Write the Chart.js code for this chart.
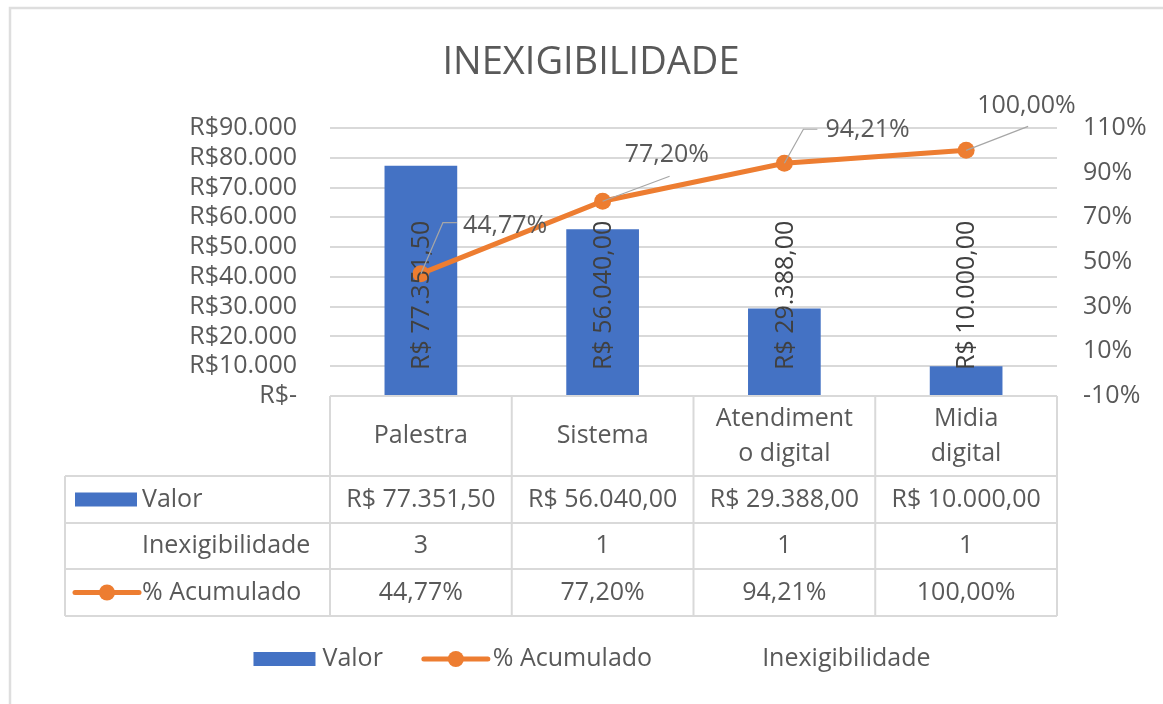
<!DOCTYPE html>
<html>
<head>
<meta charset="utf-8">
<title>INEXIGIBILIDADE</title>
<script src="https://cdn.jsdelivr.net/npm/chart.js@4.4.1/dist/chart.umd.min.js"></script>
<style>
  html, body { margin: 0; padding: 0; background: #fff; }
  #wrap { width: 1163px; height: 704px; }
</style>
</head>
<body>
<div id="wrap"><canvas id="chart" width="1163" height="704"></canvas></div>
<script>
// data
const categorias      = [['Palestra'], ['Sistema'], ['Atendiment', 'o digital'], ['Midia', 'digital']];
const valores         = [77351.5, 56040, 29388, 10000];
const inexigibilidade = [3, 1, 1, 1];
const acumulado       = [44.77, 77.20, 94.21, 100.00];

const BAR_COLOR  = '#4472C4';
const LINE_COLOR = '#ED7D31';
const TEXT_COLOR = '#595959';
const GRID_COLOR = '#d9d9d9';
const FONT       = '"Open Sans", sans-serif';

// label placement for the % line (offset from point, leader path)
const LINE_LABELS = [
  { dx: 42, dy: -48, leader: [[0, 0], [22, -51], [36, -51]] },
  { dx: 22, dy: -46, leader: [[0, 0], [67, -25]] },
  { dx: 41, dy: -33, leader: [[0, 0], [19, -34], [33, -34]] },
  { dx: 11, dy: -44, leader: [[0, 0], [62, -24]] },
];

function milhar(s) {
  return s.replace(/\B(?=(\d{3})+(?!\d))/g, '.');
}
function brl(v) {
  const [i, d] = v.toFixed(2).split('.');
  return 'R$ ' + milhar(i) + ',' + d;
}
function pct(v) {
  return v.toFixed(2).replace('.', ',') + '%';
}

const extras = {
  id: 'extras',

  beforeDraw(chart) {
    const { ctx, width, height } = chart;
    ctx.save();
    ctx.fillStyle = '#fff';
    ctx.fillRect(0, 0, width, height);
    ctx.strokeStyle = '#dedede';
    ctx.lineWidth = 2.5;
    ctx.beginPath();
    ctx.moveTo(10, height);
    ctx.lineTo(10, 8);
    ctx.lineTo(width, 8);
    ctx.stroke();
    ctx.restore();
  },

  afterDatasetsDraw(chart) {
    const { ctx } = chart;
    const y = chart.scales.y;
    const base = y.getPixelForValue(0);

    // bar labels, rotated, from the base up
    const barMeta = chart.getDatasetMeta(1);
    ctx.save();
    ctx.font = '25px ' + FONT;
    ctx.fillStyle = '#404040';
    ctx.textAlign = 'left';
    ctx.textBaseline = 'middle';
    barMeta.data.forEach((bar, i) => {
      ctx.save();
      ctx.translate(bar.x, base - 26);
      ctx.rotate(-Math.PI / 2);
      ctx.fillText(brl(valores[i]), 0, 1);
      ctx.restore();
    });
    ctx.restore();

    // line labels with leader lines
    const lineMeta = chart.getDatasetMeta(0);
    ctx.save();
    ctx.font = '25px ' + FONT;
    ctx.fillStyle = TEXT_COLOR;
    ctx.textAlign = 'left';
    ctx.textBaseline = 'middle';
    lineMeta.data.forEach((pt, i) => {
      const lab = LINE_LABELS[i];
      ctx.strokeStyle = '#a6a6a6';
      ctx.lineWidth = 1.2;
      ctx.beginPath();
      lab.leader.forEach(([lx, ly], k) => {
        if (k === 0) ctx.moveTo(pt.x + lx, pt.y + ly);
        else ctx.lineTo(pt.x + lx, pt.y + ly);
      });
      ctx.stroke();
      ctx.fillText(pct(acumulado[i]), pt.x + lab.dx, pt.y + lab.dy);
    });
    ctx.restore();
  },

  afterDraw(chart) {
    const { ctx, chartArea } = chart;
    const xs = chart.scales.x;
    const centers = categorias.map((_, i) => xs.getPixelForValue(i));
    const half = (centers[1] - centers[0]) / 2;
    const edges = [centers[0] - half].concat(centers.map(c => c + half));
    const left = 65;
    const top = chartArea.bottom;
    const rowsY = [top, top + 80, top + 127, top + 173, top + 220];

    ctx.save();

    // title
    ctx.fillStyle = TEXT_COLOR;
    ctx.font = '38px ' + FONT;
    ctx.textAlign = 'center';
    ctx.textBaseline = 'middle';
    ctx.fillText('INEXIGIBILIDADE', 591, 63);

    // data table grid
    ctx.strokeStyle = GRID_COLOR;
    ctx.lineWidth = 2;
    ctx.beginPath();
    ctx.moveTo(edges[0], rowsY[0]);
    ctx.lineTo(edges[edges.length - 1], rowsY[0]);
    for (let r = 1; r < rowsY.length; r++) {
      ctx.moveTo(left, rowsY[r]);
      ctx.lineTo(edges[edges.length - 1], rowsY[r]);
    }
    edges.forEach(x => {
      ctx.moveTo(x, rowsY[0]);
      ctx.lineTo(x, rowsY[4]);
    });
    ctx.moveTo(left, rowsY[1]);
    ctx.lineTo(left, rowsY[4]);
    ctx.stroke();

    // header: category names
    ctx.font = '25px ' + FONT;
    ctx.fillStyle = TEXT_COLOR;
    ctx.textAlign = 'center';
    const hMid = (rowsY[0] + rowsY[1]) / 2;
    categorias.forEach((lines, i) => {
      const lh = 35;
      const y0 = hMid - (lines.length - 1) * lh / 2;
      lines.forEach((t, k) => ctx.fillText(t, centers[i], y0 + k * lh));
    });

    // value rows
    const rows = [
      valores.map(brl),
      inexigibilidade.map(String),
      acumulado.map(pct),
    ];
    rows.forEach((vals, r) => {
      const ym = (rowsY[r + 1] + rowsY[r + 2]) / 2;
      vals.forEach((t, i) => ctx.fillText(t, centers[i], ym));
    });

    // row headers with legend keys
    const names = ['Valor', 'Inexigibilidade', '% Acumulado'];
    const keys = ['bar', null, 'line'];
    ctx.textAlign = 'left';
    names.forEach((n, r) => {
      const ym = (rowsY[r + 1] + rowsY[r + 2]) / 2;
      drawKey(ctx, keys[r], 75, ym);
      ctx.fillStyle = TEXT_COLOR;
      ctx.fillText(n, 142, ym);
    });

    // bottom legend
    const items = [['bar', 'Valor'], ['line', '% Acumulado'], [null, 'Inexigibilidade']];
    const keyW = 62, keyGap = 7, itemGap = 41;
    const widths = items.map(([, t]) => keyW + keyGap + ctx.measureText(t).width);
    const total = widths.reduce((a, b) => a + b, 0) + itemGap * (items.length - 1);
    let x = 592 - total / 2;
    const ly = 659;
    items.forEach(([k, t], i) => {
      drawKey(ctx, k, x, ly);
      ctx.fillStyle = TEXT_COLOR;
      ctx.fillText(t, x + keyW + keyGap, ly);
      x += widths[i] + itemGap;
    });

    ctx.restore();
  },
};

function drawKey(ctx, kind, x, y) {
  if (kind === 'bar') {
    ctx.fillStyle = BAR_COLOR;
    ctx.fillRect(x, y - 7, 62, 14);
  } else if (kind === 'line') {
    ctx.strokeStyle = LINE_COLOR;
    ctx.lineWidth = 5;
    ctx.lineCap = 'round';
    ctx.beginPath();
    ctx.moveTo(x, y);
    ctx.lineTo(x + 64, y);
    ctx.stroke();
    ctx.lineCap = 'butt';
    ctx.fillStyle = LINE_COLOR;
    ctx.beginPath();
    ctx.arc(x + 32, y, 8, 0, Math.PI * 2);
    ctx.fill();
  }
}

new Chart(document.getElementById('chart'), {
  data: {
    labels: categorias.map(c => c.join('')),
    datasets: [
      {
        type: 'line',
        label: '% Acumulado',
        data: acumulado,
        yAxisID: 'y1',
        borderColor: LINE_COLOR,
        backgroundColor: LINE_COLOR,
        borderWidth: 5,
        pointRadius: 8.5,
        pointBorderWidth: 0,
        pointBackgroundColor: LINE_COLOR,
        tension: 0,
        order: 0,
      },
      {
        type: 'bar',
        label: 'Valor',
        data: valores,
        yAxisID: 'y',
        backgroundColor: BAR_COLOR,
        categoryPercentage: 1,
        barPercentage: 0.4,
        order: 1,
      },
      {
        type: 'line',
        label: 'Inexigibilidade',
        data: inexigibilidade,
        yAxisID: 'y',
        showLine: false,
        pointRadius: 0,
        order: 2,
      },
    ],
  },
  options: {
    responsive: false,
    animation: false,
    layout: { padding: { top: 128, bottom: 308, left: 0, right: 0 } },
    plugins: {
      legend: { display: false },
      title: { display: false },
      tooltip: { enabled: false },
    },
    scales: {
      x: { display: false, offset: true },
      y: {
        position: 'left',
        min: 0,
        max: 90000,
        ticks: {
          stepSize: 10000,
          autoSkip: false,
          color: TEXT_COLOR,
          font: { family: FONT, size: 25 },
          padding: 33,
          callback: v => v === 0 ? 'R$-' : 'R$' + milhar(String(v)),
        },
        grid: { color: GRID_COLOR, lineWidth: 2, drawTicks: false },
        border: { display: false },
        afterFit: s => { s.width = 330; },
      },
      y1: {
        position: 'right',
        min: -10,
        max: 110,
        ticks: {
          stepSize: 20,
          autoSkip: false,
          color: TEXT_COLOR,
          font: { family: FONT, size: 25 },
          padding: 26,
          callback: v => v + '%',
        },
        grid: { display: false, drawTicks: false },
        border: { display: false },
        afterFit: s => { s.width = 106; },
      },
    },
  },
  plugins: [extras],
});
</script>
</body>
</html>
